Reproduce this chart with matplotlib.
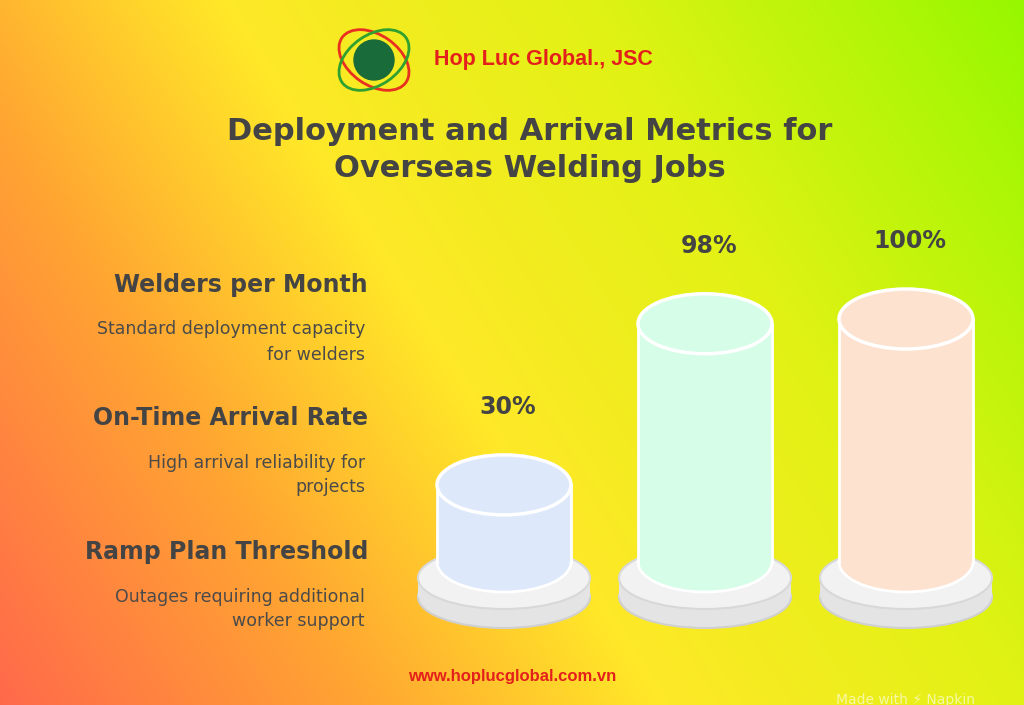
import numpy as np
import matplotlib.pyplot as plt
from matplotlib.patches import Ellipse, Rectangle

values = [30, 98, 100]
value_labels = ["30%", "98%", "100%"]
bar_colors = ["#dde8fb", "#d6fde8", "#fde2cf"]
headings = ["Welders per Month", "On-Time Arrival Rate", "Ramp Plan Threshold"]
descriptions = ["Standard deployment capacity\nfor welders",
                "High arrival reliability for\nprojects",
                "Outages requiring additional\nworker support"]

W, H = 1024, 705
fig = plt.figure(figsize=(W / 100, H / 100), dpi=100)
ax = fig.add_axes([0, 0, 1, 1])
ax.set_xlim(0, W)
ax.set_ylim(H, 0)
ax.axis("off")

# diagonal gradient background: orange-red bottom-left -> yellow -> green top-right
yy, xx = np.mgrid[0:H, 0:W]
t = (xx / W * 0.7 + (H - yy) / H * 0.3)
stops = np.array([0.0, 0.25, 0.45, 0.7, 1.0])
cols = np.array([[255, 105, 75], [255, 165, 50], [255, 232, 40],
                 [225, 242, 20], [150, 248, 0]]) / 255
img = np.stack([np.interp(t, stops, cols[:, i]) for i in range(3)], axis=-1)
ax.imshow(img, extent=(0, W, H, 0), zorder=0)

# header logo + company
ax.add_patch(Ellipse((374, 60), 40, 40, color="#1a6b3a", zorder=2))
ax.add_patch(Ellipse((374, 60), 78, 50, angle=35, fill=False, ec="#e83020", lw=2, zorder=2))
ax.add_patch(Ellipse((374, 60), 78, 50, angle=-35, fill=False, ec="#30a030", lw=2, zorder=2))
ax.text(434, 60, "Hop Luc Global., JSC", color="#e3201b", fontsize=15.5,
        fontweight="bold", family="Liberation Sans", va="center", ha="left")

font = "DejaVu Sans"
ax.text(530, 150, "Deployment and Arrival Metrics for\nOverseas Welding Jobs",
        ha="center", va="center", fontsize=22, fontweight="bold", color="#444444",
        family=font, linespacing=1.35)

head_y = [285, 418, 552]
for hy, hd, ds in zip(head_y, headings, descriptions):
    ax.text(368, hy, hd, ha="right", va="center", fontsize=17, fontweight="bold",
            color="#444444", family=font)
    ax.text(365, hy + 57, ds, ha="right", va="center", fontsize=12.5,
            color="#4a4a4a", family=font, linespacing=1.5)

# cylinders
centers = [504, 705, 906]
cw, eh = 134, 60
bottom = 562
for cx, v, c, lab in zip(centers, values, bar_colors, value_labels):
    # base plate
    ax.add_patch(Ellipse((cx, 597), 172, 62, fc="#e4e4e4", ec="#d0d0d0", lw=1.5, zorder=2))
    ax.add_patch(Rectangle((cx - 86, 578), 172, 19, fc="#e4e4e4", ec="none", zorder=2))
    ax.add_patch(Ellipse((cx, 578), 172, 62, fc="#f2f2f2", ec="#d8d8d8", lw=1.5, zorder=3))
    h = 6 + 2.37 * v
    top = bottom - h
    ax.add_patch(Ellipse((cx, bottom), cw, eh, fc=c, ec="#ffffff", lw=2, zorder=4))
    ax.add_patch(Rectangle((cx - cw / 2, top), cw, h, fc=c, ec="none", zorder=4))
    ax.plot([cx - cw / 2, cx - cw / 2], [top, bottom], color="#ffffff", lw=2, zorder=5)
    ax.plot([cx + cw / 2, cx + cw / 2], [top, bottom], color="#ffffff", lw=2, zorder=5)
    ax.add_patch(Ellipse((cx, top), cw, eh, fc=c, ec="#ffffff", lw=2.5, zorder=5))
    ax.text(cx + 4, top - 78, lab, ha="center", va="center", fontsize=17,
            fontweight="bold", color="#444444", family=font)

ax.text(512, 676, "www.hoplucglobal.com.vn", ha="center", va="center", fontsize=12,
        fontweight="bold", color="#e3201b", family="Liberation Sans")
ax.text(905, 700, "Made with ⚡ Napkin", ha="center", va="center", fontsize=10,
        color="#ffffff", alpha=0.6, family=font)

fig.savefig("out.png", dpi=100)
